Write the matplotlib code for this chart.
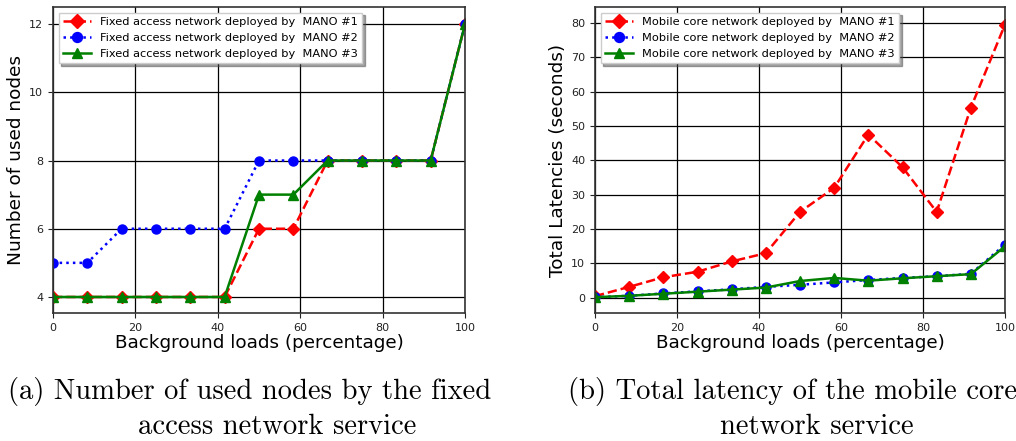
import matplotlib
matplotlib.use("Agg")
import matplotlib.pyplot as plt

x = [0, 100/12, 200/12, 25, 400/12, 500/12, 50, 700/12, 800/12, 75, 1000/12, 1100/12, 100]

nodes_m1 = [4, 4, 4, 4, 4, 4, 6, 6, 8, 8, 8, 8, 12]
nodes_m2 = [5, 5, 6, 6, 6, 6, 8, 8, 8, 8, 8, 8, 12]
nodes_m3 = [4, 4, 4, 4, 4, 4, 7, 7, 8, 8, 8, 8, 12]

lat_m1 = [0.5, 3.2, 6.0, 7.6, 10.6, 13.0, 25.0, 32.0, 47.5, 38.0, 25.0, 55.3, 79.5]
lat_m2 = [0.2, 0.6, 1.3, 1.9, 2.5, 3.2, 3.8, 4.5, 5.2, 5.8, 6.3, 7.0, 15.5]
lat_m3 = [0.2, 0.6, 1.2, 1.8, 2.4, 3.0, 4.9, 5.8, 5.0, 5.7, 6.3, 6.9, 15.0]

labels_a = ["Fixed access network deployed by  MANO #1",
            "Fixed access network deployed by  MANO #2",
            "Fixed access network deployed by  MANO #3"]
labels_b = ["Mobile core network deployed by  MANO #1",
            "Mobile core network deployed by  MANO #2",
            "Mobile core network deployed by  MANO #3"]

fig = plt.figure(figsize=(10.16, 4.41), dpi=100)
W, H = 1016, 441
axA = fig.add_axes([53/W, 1-313/H, 412/W, 306/H])
axB = fig.add_axes([595/W, 1-313/H, 410/W, 306/H])

def style(ax, series, labels, ylim, ylabel):
    s1, s2, s3 = series
    ax.plot(x, s1, color='red', linestyle='--', marker='D', markersize=6.5, linewidth=1.8, label=labels[0])
    ax.plot(x, s2, color='blue', linestyle=':', marker='o', markersize=6.5, linewidth=1.8, label=labels[1])
    ax.plot(x, s3, color='green', linestyle='-', marker='^', markersize=6.5, linewidth=1.8, label=labels[2])
    ax.set_xlim(0, 100)
    ax.set_ylim(*ylim)
    ax.grid(True, color='black', linewidth=0.9)
    ax.set_axisbelow(True)
    ax.tick_params(labelsize=8, direction='out', length=3.5, colors='#222222')
    for sp in ax.spines.values():
        sp.set_color('#333333')
        sp.set_linewidth(1.2)
    ax.set_xlabel("Background loads (percentage)", fontsize=13.2, labelpad=1)
    ax.set_ylabel(ylabel, fontsize=13.3, labelpad=3)
    ax.legend(loc='upper left', fontsize=8.2, shadow=True, fancybox=False,
              framealpha=1, borderpad=0.4, handlelength=2.4, labelspacing=0.5,
              borderaxespad=0.5, edgecolor='#cccccc', markerscale=1.1)
    ax.set_xticks([0, 20, 40, 60, 80, 100])

style(axA, (nodes_m1, nodes_m2, nodes_m3), labels_a, (3.53, 12.5), "Number of used nodes")
axA.set_yticks([4, 6, 8, 10, 12])
style(axB, (lat_m1, lat_m2, lat_m3), labels_b, (-4.4, 84.6), "Total Latencies (seconds)")
axB.set_yticks([0, 10, 20, 30, 40, 50, 60, 70, 80])

cap = dict(fontsize=20.6, family='cmr10', va='baseline')
fig.text(8/W, 1-399/H, "(a) Number of used nodes by the fixed", ha='left', **cap)
fig.text(277/W, 1-434/H, "access network service", ha='center', **cap)
fig.text(568/W, 1-399/H, "(b) Total latency of the mobile core", ha='left', **cap)
fig.text(817/W, 1-434/H, "network service", ha='center', **cap)

fig.savefig("out.png", dpi=100)
